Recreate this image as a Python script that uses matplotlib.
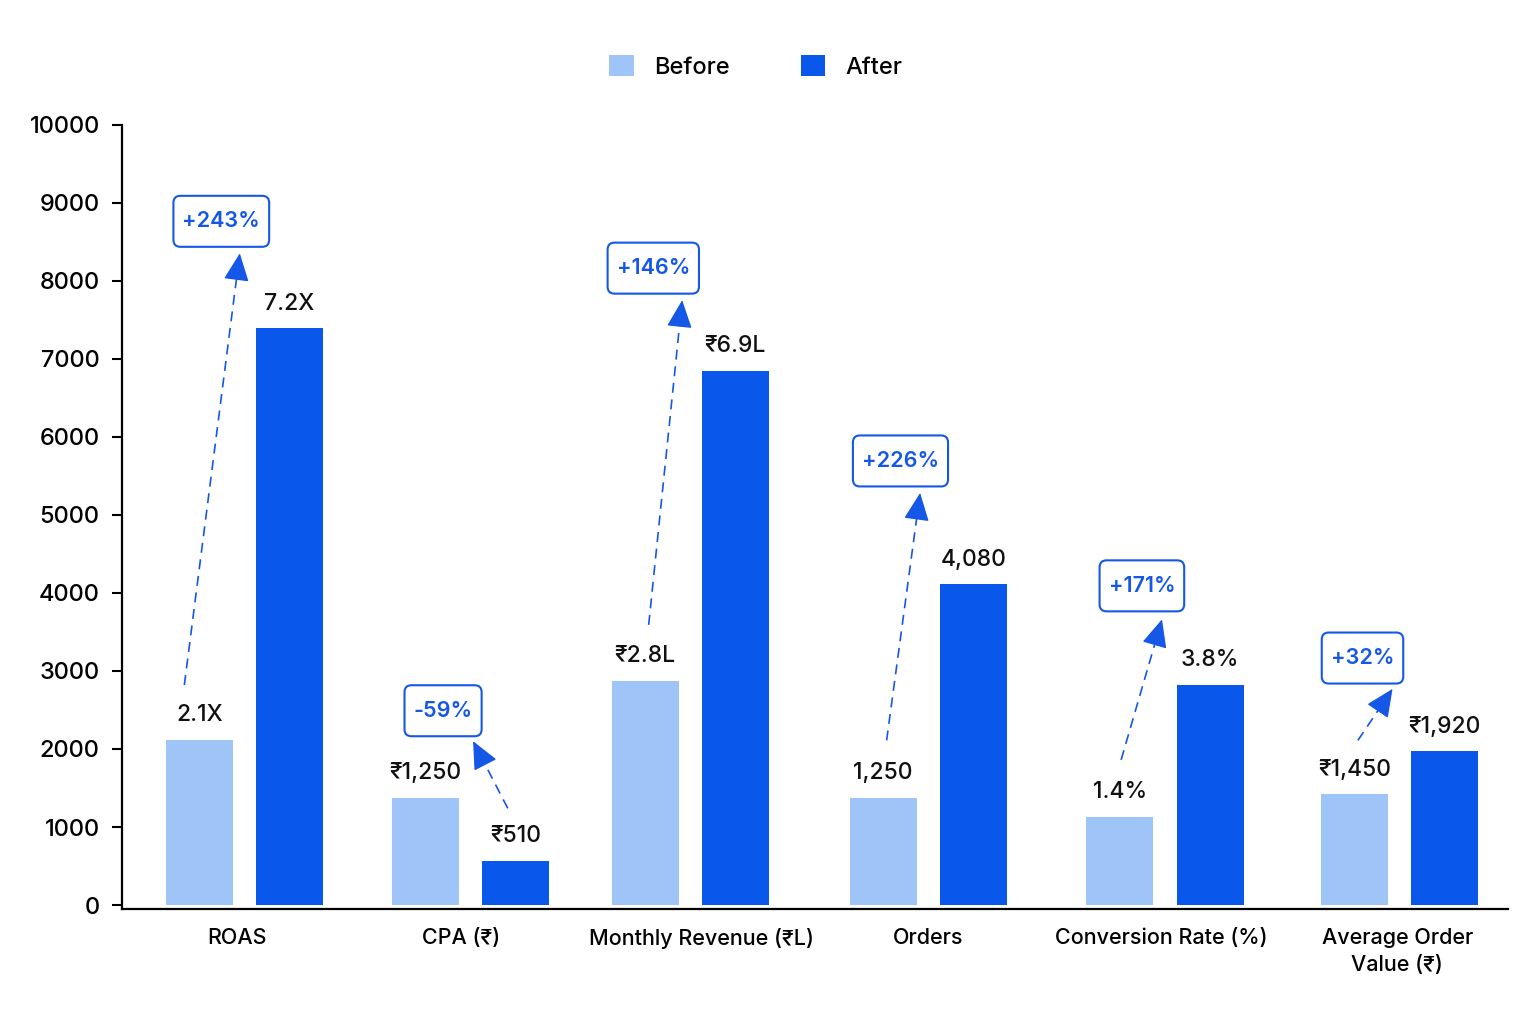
import numpy as np
import matplotlib
matplotlib.use("Agg")
import matplotlib.pyplot as plt
from matplotlib.patches import Patch, FancyBboxPatch
from matplotlib.transforms import IdentityTransform

plt.rcParams['font.family'] = ['Inter', 'Noto Sans', 'DejaVu Sans']
plt.rcParams['font.weight'] = 'medium'

# data
categories = ["ROAS", "CPA (₹)", "Monthly Revenue (₹L)", "Orders",
              "Conversion Rate (%)", "Average Order\nValue (₹)"]
before_vals = [2120, 1370, 2870, 1370, 1130, 1420]
after_vals = [7390, 570, 6840, 4110, 2820, 1970]
before_labels = ["2.1X", "₹1,250", "₹2.8L", "1,250", "1.4%", "₹1,450"]
after_labels = ["7.2X", "₹510", "₹6.9L", "4,080", "3.8%", "₹1,920"]
change_labels = ["+243%", "-59%", "+146%", "+226%", "+171%", "+32%"]

# layout: group centres and label centres (slightly uneven in the original)
group_x = [0, 0.98, 1.93, 2.96, 3.985, 5.0]
label_x = [-0.03, 0.94, 1.98, 2.96, 3.97, 4.99]

# annotation layout (offsets from group centre, y in data units)
box_dx = [-0.10, -0.12, -0.16, -0.12, -0.10, -0.16]
box_y = [8760, 2490, 8160, 5690, 4090, 3165]
arr_dx0 = [-0.26, 0.16, -0.18, -0.18, -0.19, -0.18]
arr_y0 = [2820, 1240, 3590, 2110, 1860, 2110]
arr_dx1 = [-0.02, 0.01, -0.035, -0.035, -0.013, -0.03]
arr_y1 = [8350, 2100, 7750, 5280, 3660, 2770]

c_before = "#9ec4f8"
c_after = "#0a57eb"
c_accent = "#1557e6"

fig = plt.figure(figsize=(15.36, 10.24), dpi=100)
ax = fig.add_axes([0.0794, 0.1123, 0.9024, 0.7661])

x = np.array(group_x)
w = 0.29
off = 0.195
b1 = ax.bar(x - off, before_vals, w, color=c_before, zorder=2)
b2 = ax.bar(x + off, after_vals, w, color=c_after, zorder=2)

for rect, lab in zip(b1, before_labels):
    ax.annotate(lab, (rect.get_x() + rect.get_width() / 2, rect.get_height()),
                xytext=(0, 13.5), textcoords="offset points", ha="center",
                va="baseline", fontsize=16.5, color="#111111")
for rect, lab in zip(b2, after_labels):
    ax.annotate(lab, (rect.get_x() + rect.get_width() / 2, rect.get_height()),
                xytext=(0, 13.5), textcoords="offset points", ha="center",
                va="baseline", fontsize=16.5, color="#111111")

ax.set_xlim(-0.53, 5.47)
ax.set_ylim(-50, 10000)

head_px = 18
texts = []
for i in range(len(categories)):
    p0 = np.array([x[i] + arr_dx0[i], arr_y0[i]])
    p1 = np.array([x[i] + arr_dx1[i], arr_y1[i]])
    # point head_px pixels behind the tip: dashed shaft, solid head
    d0, d1 = ax.transData.transform([p0, p1])
    u = (d1 - d0) / np.hypot(*(d1 - d0))
    pb = ax.transData.inverted().transform(d1 - u * head_px)
    ax.plot([p0[0], pb[0]], [p0[1], pb[1]], color=c_accent, lw=1.2,
            linestyle=(0, (6, 4)), zorder=3)
    ax.annotate("", xy=p1, xytext=pb,
                arrowprops=dict(arrowstyle="-|>,head_length=0.7,head_width=0.32",
                                color=c_accent, lw=1.0, mutation_scale=25,
                                shrinkA=0, shrinkB=0),
                zorder=3)
    t = ax.text(x[i] + box_dx[i], box_y[i], change_labels[i], ha="center",
                va="center", fontsize=15.5, fontweight="semibold",
                color=c_accent, zorder=5)
    texts.append(t)

# boxes around the change labels (separate x / y padding, in pixels)
fig.canvas.draw()
renderer = fig.canvas.get_renderer()
for t in texts:
    bb = t.get_window_extent(renderer)
    cx, cy = (bb.x0 + bb.x1) / 2, (bb.y0 + bb.y1) / 2
    bw, bh = bb.width + 18, 51
    box = FancyBboxPatch((cx - bw / 2, cy - bh / 2), bw, bh,
                         boxstyle="round,pad=0,rounding_size=7",
                         transform=IdentityTransform(), facecolor="white",
                         edgecolor=c_accent, lw=1.5, zorder=4)
    ax.add_artist(box)

ax.set_yticks(range(0, 10001, 1000))
ax.set_xticks(label_x)
ax.set_xticklabels(categories, fontsize=15.5, linespacing=1.4)
ax.tick_params(axis="x", length=0, pad=14)
ax.tick_params(axis="y", length=7, width=1.5, pad=9, labelsize=17)
for s in ["top", "right"]:
    ax.spines[s].set_visible(False)
ax.spines["left"].set_linewidth(1.6)
ax.spines["bottom"].set_linewidth(1.6)

handles = [Patch(facecolor=c_before, label="Before"),
           Patch(facecolor=c_after, label="After")]
fig.legend(handles=handles, loc="center", bbox_to_anchor=(0.492, 0.935), ncol=2,
           frameon=False, fontsize=17, handlelength=1.05, handleheight=1.05,
           handletextpad=0.85, columnspacing=3.0)

fig.savefig("out.png", dpi=100, facecolor="white")
